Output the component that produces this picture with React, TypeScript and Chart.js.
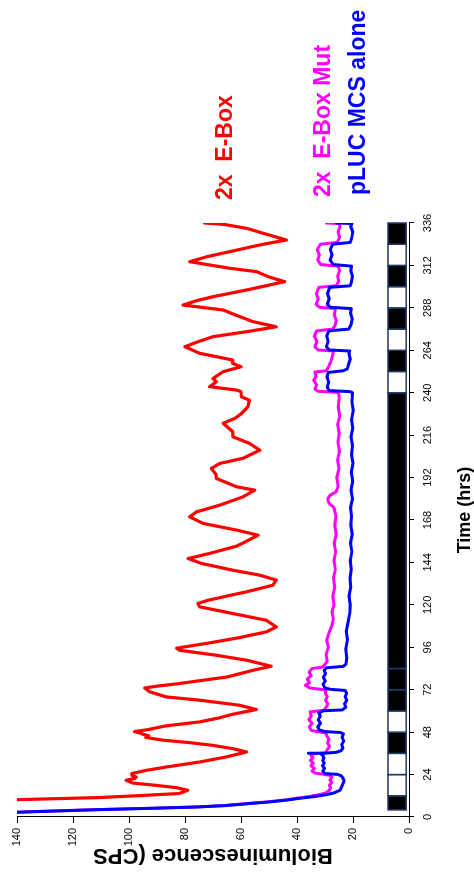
import React, { useEffect, useRef } from 'react';
import { Chart, registerables } from 'chart.js';

Chart.register(...registerables);

// Unrotated chart size (the picture is this chart turned 90° counter-clockwise)
const W = 878;
const H = 474;

const xTickStep = 24;
const xMax = 336;
const yTickStep = 20;
const yMax = 140;

const xTitle = 'Time (hrs)';
const yTitle = 'Bioluminescence (CPS';
const seriesLabels = ['2x  E-Box', '2x  E-Box Mut', 'pLUC MCS alone'];
const seriesColors = ['#ff0000', '#ff00ff', '#0000ff'];

// [time (hrs), bioluminescence (CPS)]
const eBoxSeries: number[][] = [
  [0, 330], [4, 250], [8.5, 172], [9.8, 140], [11, 110.5], [12.2, 95], [13.3, 82], [15.1, 79], [16.6, 83],
  [18, 91], [19.2, 98.6], [20.8, 101], [21.8, 98], [22.6, 97.4], [23.6, 99], [24.6, 99], [26.4, 93.8],
  [28.3, 86.6], [31.1, 74.8], [34, 65.2], [36.8, 58], [38.7, 63], [40.5, 70], [42, 78], [43.5, 88],
  [45, 94], [46, 93], [46.8, 95], [47.5, 96], [48.3, 98], [49.5, 93], [51.5, 87], [53.8, 74.8], [56, 68],
  [58.1, 63], [60.8, 54.5], [63.2, 60.5], [66.1, 74.8], [67.9, 86.6], [70.8, 92.6], [73, 94.4], [74, 90],
  [75.5, 82], [77.5, 73], [79.2, 65], [83, 55.7], [85.3, 49.2], [88.7, 58], [91.5, 68.8], [94.3, 81.9],
  [95.5, 83], [96.5, 79], [98.5, 71.2], [101.5, 60.5], [104.7, 51], [107.5, 47.4], [111.3, 51], [115.1, 62.9],
  [118.9, 74.8], [120.8, 75.4], [122.5, 72], [125, 65], [127.4, 58], [131.1, 48.6], [134, 47.4], [136.8, 53.3],
  [139.6, 62.9], [143.4, 74], [146.2, 78.9], [149.1, 71.2], [153.2, 61.6], [156, 58], [159.4, 53.9],
  [162.3, 61.6], [166.1, 73.6], [169.8, 78.3], [172.6, 75.9], [176.4, 67.6], [181.1, 59.3], [184.9, 55.1],
  [186.8, 61.6], [191.5, 68.8], [194, 69], [197.2, 70.6], [200, 67.6], [202.9, 59.3], [207.5, 53.3],
  [211.3, 56.9], [215.1, 62.9], [218, 63], [222.7, 66.4], [225.5, 62.2], [228, 60], [232.1, 57.5],
  [235.8, 57], [237.7, 59.9], [240.6, 60], [241.5, 61.6], [243.4, 71.2], [246.2, 68.8], [248, 70],
  [251.9, 66.4], [254.7, 60], [256.6, 63], [258.5, 63], [262.3, 74.8], [266, 80], [268.5, 76], [271.7, 70],
  [274.5, 58], [277.3, 47.4], [280.2, 55.7], [284, 62], [286.8, 66.4], [289.6, 80.7], [292, 76], [294.3, 70],
  [298.1, 58], [302.8, 44.4], [305.5, 50], [308.5, 54.5], [310.4, 64], [314.1, 78.3], [317, 72], [319.8, 64],
  [323.6, 53.3], [326.4, 43.8], [330.2, 52.1], [333, 58], [335.3, 66.4], [336, 73],
];

const eBoxMutSeries: number[][] = [
  [0, 210], [2, 155], [2.7, 140], [3.5, 126], [4.2, 111], [5, 91], [5.7, 76], [6.5, 66], [7.6, 58], [8.5, 51],
  [9.5, 45], [10.5, 40.5], [11.5, 36], [12.5, 32.5], [13.5, 30], [15, 28.5], [16.5, 28], [18, 28.4],
  [19.5, 27.6], [21, 28.2], [22.5, 27.5], [23.6, 28.5], [24.3, 31], [24.8, 33.5], [26, 34.6], [27.5, 33.8],
  [29, 35], [30.5, 34.2], [32, 35.2], [33.5, 34.3], [35, 35], [35.8, 34], [36.3, 29.8], [38, 29.2], [40, 28.4],
  [42, 29.1], [44, 28.6], [46, 29.4], [47.6, 29.7], [48.3, 32.5], [49, 35], [51, 35.6], [53, 34.6], [55, 35.8],
  [57, 34.9], [59.5, 35.3], [60.3, 30.5], [62, 29.6], [64, 29], [66, 29.8], [68, 29.2], [70, 29.9],
  [71.8, 29.6], [72.4, 32.5], [73, 35.5], [74.5, 37], [76, 35.6], [78, 36.3], [80, 34.9], [82, 35.7],
  [84, 34.6], [84.8, 31], [86, 30.2], [88, 29.2], [92, 29.6], [96, 28.8], [100, 29.4], [104, 28.6],
  [108, 27.6], [112, 27], [116, 27.5], [120, 26.8], [125, 27.2], [130, 26.5], [135, 27], [140, 26.3],
  [145, 26.8], [150, 26.2], [155, 26.7], [160, 26], [165, 26.5], [170, 26.1], [175, 26.8], [177.5, 28.6],
  [180, 29], [182, 28.2], [184, 26], [187, 25.3], [192, 25.8], [197, 25], [202, 25.5], [207, 24.8],
  [212, 25.4], [217, 24.9], [222, 25.5], [227, 24.7], [232, 25.3], [237, 24.9], [240.2, 25.2], [240.8, 32.5],
  [242, 33.6], [244.5, 33], [247, 34], [249.5, 33.2], [251.7, 33.6], [252.4, 29.6], [255, 28.6], [258, 27.8],
  [261, 27.3], [263.6, 27], [264.2, 32.5], [266, 33.6], [269, 32.9], [272, 33.8], [275, 33], [276, 27.2],
  [278, 26.4], [281, 26], [284, 26.7], [287.6, 26.2], [288.3, 32], [290, 33.2], [293, 32.4], [296, 33.1],
  [299.6, 32.2], [300.5, 26], [303, 25.1], [306, 25.5], [309, 24.8], [311.6, 25.3], [312.5, 31.5],
  [315, 32.6], [318, 32], [321, 32.8], [324, 31.6], [325, 25.6], [328, 24.8], [331, 25.3], [334, 24.6],
  [335.7, 25], [336, 29.5],
];

const mcsSeries: number[][] = [
  [0, 210], [2, 152], [2.8, 138], [3.5, 124], [4.2, 110], [5, 90], [5.7, 75], [6.5, 65], [7.6, 57], [8.5, 50],
  [9.5, 44], [10.5, 39.5], [11.5, 34], [12.3, 30.7], [13.5, 27], [15.1, 24.7], [16.5, 24.2], [18, 23.8],
  [19.5, 23.4], [20.8, 23.2], [22, 23.6], [23.3, 24.2], [24.1, 25.5], [24.6, 30], [26, 30.8], [27.5, 30.2],
  [29, 30.9], [30.5, 30.3], [32, 30.8], [33.5, 30.4], [35, 30.9], [35.7, 31.5], [35.95, 36], [36.2, 30],
  [36.6, 26], [37.5, 24.3], [39, 23.6], [41, 24], [43, 23.3], [45, 23.9], [47, 23.4], [47.8, 24.5], [48.3, 30],
  [49.2, 32], [51, 32.6], [53, 31.6], [55, 32.4], [57, 31.7], [59, 32.2], [60.1, 30.5], [60.6, 23.8], [62, 22.6],
  [64, 23], [66, 22.2], [68, 22.8], [70, 22.3], [71.6, 22.8], [72.2, 28], [73, 30], [75, 30.7], [77, 29.9],
  [79, 30.6], [81, 29.8], [83, 30.3], [84.4, 29.5], [85.2, 23.5], [86.5, 22.5], [90, 22.2], [95, 22.6],
  [100, 22], [105, 22.4], [110, 21.8], [115, 21.2], [120, 21], [125, 21.4], [130, 20.8], [135, 21.1],
  [140, 20.6], [145, 21], [150, 20.4], [155, 20.9], [160, 20.3], [165, 20.8], [170, 20.5], [175, 20.9],
  [180, 20.2], [185, 20.7], [190, 20.1], [195, 20.6], [200, 20], [205, 20.5], [210, 20.2], [215, 20.7],
  [220, 20.1], [225, 20.5], [230, 19.9], [235, 20.4], [240, 20.2], [240.6, 21], [241.2, 28.5], [243, 29.2],
  [246, 28.7], [249, 29.3], [251.5, 28.8], [252.4, 23.5], [253.5, 22], [256, 21.6], [259, 21], [262, 21.4],
  [263.6, 21.2], [264.2, 28.5], [266, 29.5], [269, 28.9], [272, 29.4], [275, 28.6], [276, 21.5], [279, 20.6],
  [282, 20.3], [285, 20.9], [287.6, 20.6], [288.3, 28], [290, 29.2], [293, 28.5], [296, 29.1], [299.6, 28.3],
  [300.5, 21], [303, 20.5], [306, 20.2], [309, 20.8], [311.6, 20.5], [312.5, 27], [315, 28.2], [318, 27.5],
  [321, 28.1], [324, 27.3], [325, 21], [328, 20.4], [331, 20.1], [334, 20.8], [335.7, 20.4], [336, 26],
];

// Light/dark schedule bar: interval edges (hrs) and state of each interval
const ldEdges = [4, 12, 24, 36, 48, 60, 72, 84, 240, 252, 264, 276, 288, 300, 312, 324, 336];
const ldStates = ['D', 'L', 'L', 'D', 'L', 'D', 'D', 'D', 'L', 'D', 'L', 'D', 'L', 'D', 'L', 'D'];
const ldBarRange = [1, 7.5]; // CPS range the bar occupies

const FONT = '"Liberation Sans", Arial, Helvetica, sans-serif';

export default function App() {
  const ref = useRef<HTMLCanvasElement>(null);

  useEffect(() => {
    document.body.style.margin = '0';
    const canvas = ref.current;
    if (!canvas) return;
    Chart.defaults.font.family = FONT;

    const ldPlugin = {
      id: 'ldBar',
      beforeDatasetsDraw(chart: any) {
        const { ctx, scales } = chart;
        const x = scales.x;
        const y = scales.y;
        const yTop = y.getPixelForValue(ldBarRange[1]);
        const yBot = y.getPixelForValue(ldBarRange[0]);
        ctx.save();
        for (let i = 0; i < ldStates.length; i++) {
          const a = x.getPixelForValue(ldEdges[i]);
          const b = x.getPixelForValue(ldEdges[i + 1]);
          ctx.fillStyle = ldStates[i] === 'D' ? '#000000' : '#ffffff';
          ctx.fillRect(a, yTop, b - a, yBot - yTop);
          ctx.strokeStyle = '#1f3b66';
          ctx.lineWidth = 1.5;
          ctx.strokeRect(a, yTop, b - a, yBot - yTop);
        }
        ctx.restore();
      },
    };

    const labelOffsets = [
      [23, 215],
      [26, 313],
      [28, 348],
    ];
    const labelPlugin = {
      id: 'seriesLabels',
      afterDraw(chart: any) {
        const { ctx, chartArea } = chart;
        ctx.save();
        ctx.font = `bold 23px ${FONT}`;
        ctx.textBaseline = 'alphabetic';
        ctx.textAlign = 'left';
        for (let i = 0; i < seriesLabels.length; i++) {
          ctx.fillStyle = seriesColors[i];
          ctx.fillText(seriesLabels[i], chartArea.right + labelOffsets[i][0], chartArea.top + labelOffsets[i][1]);
        }
        // x-axis title, slightly right of the plot centre as in the source
        ctx.fillStyle = '#000';
        ctx.font = `bold 18px ${FONT}`;
        ctx.textAlign = 'center';
        ctx.fillText(xTitle, (chartArea.left + chartArea.right) / 2 + 10, chartArea.bottom + 61);
        ctx.restore();
      },
    };

    const toXY = (s: number[][]) => s.map(([x, y]) => ({ x, y }));

    const chart = new Chart(canvas, {
      type: 'line',
      data: {
        datasets: [
          { label: seriesLabels[2], data: toXY(mcsSeries), borderColor: seriesColors[2], borderWidth: 3, pointRadius: 0 },
          { label: seriesLabels[1], data: toXY(eBoxMutSeries), borderColor: seriesColors[1], borderWidth: 3, pointRadius: 0 },
          { label: seriesLabels[0], data: toXY(eBoxSeries), borderColor: seriesColors[0], borderWidth: 3.2, pointRadius: 0 },
        ],
      },
      options: {
        animation: false,
        responsive: false,
        maintainAspectRatio: false,
        elements: { line: { tension: 0, borderJoinStyle: 'round', borderCapStyle: 'round' } },
        layout: { padding: { top: 17, right: 223, left: 0, bottom: 0 } },
        plugins: { legend: { display: false }, tooltip: { enabled: false } },
        scales: {
          x: {
            type: 'linear',
            min: 0,
            max: xMax,
            ticks: { stepSize: xTickStep, autoSkip: false, maxRotation: 0, padding: 7, color: '#000', font: { size: 11 } },
            grid: { drawOnChartArea: false, drawTicks: true, tickLength: 5, color: '#000', lineWidth: 1 },
            border: { display: true, color: '#000', width: 1 },
            afterFit: (s: any) => { s.height = 65; },
          },
          y: {
            min: 0,
            max: yMax,
            ticks: { stepSize: yTickStep, padding: 5, color: '#000', font: { size: 11 } },
            grid: { drawOnChartArea: false, drawTicks: true, tickLength: 6, color: '#000', lineWidth: 1 },
            border: { display: true, color: '#000', width: 1 },
            title: { display: true, text: yTitle, color: '#000', font: { size: 22, weight: 'bold' }, padding: { top: 10, bottom: 0 } },
            afterFit: (s: any) => { s.width = 61; },
          },
        },
      } as any,
      plugins: [ldPlugin, labelPlugin],
    });
    return () => chart.destroy();
  }, []);

  return (
    <div style={{ position: 'fixed', left: 0, top: 0, width: H, height: W, overflow: 'hidden', background: '#fff' }}>
      <div
        style={{
          position: 'absolute', left: 0, top: 0, width: W, height: H,
          transformOrigin: '0 0', transform: `translateY(${W}px) rotate(-90deg)`,
        }}
      >
        <canvas ref={ref} width={W} height={H} style={{ display: 'block', width: W, height: H }} />
      </div>
    </div>
  );
}
